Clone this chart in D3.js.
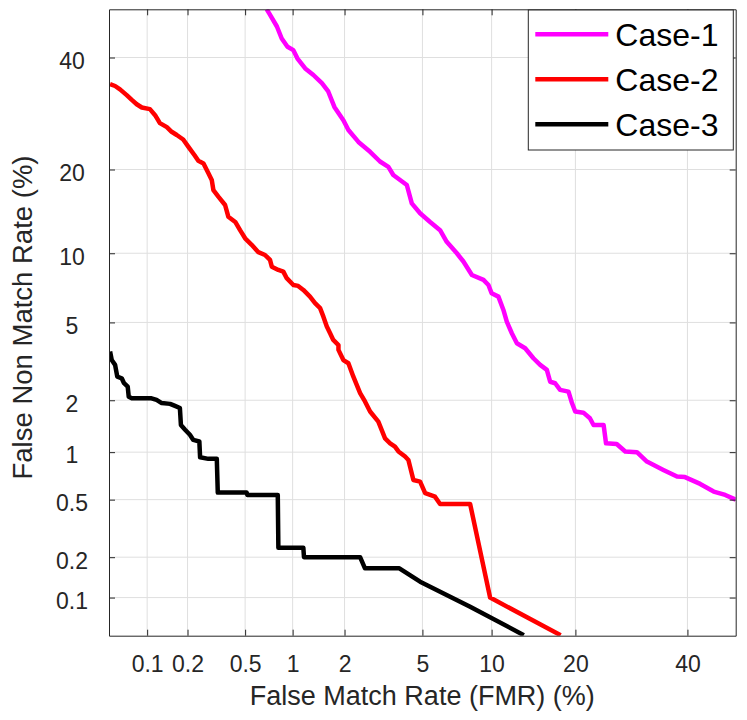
<!DOCTYPE html>
<html>
<head>
<meta charset="utf-8">
<script src="https://cdn.jsdelivr.net/npm/d3@7"></script>
<style>
  html, body { margin: 0; padding: 0; background: #fff; }
  svg text { font-family: "Liberation Sans", Arial, Helvetica, sans-serif; }
</style>
</head>
<body>
<div id="chart"></div>
<script>
// DET curves, values in percent
const tickValues = [0.1, 0.2, 0.5, 1, 2, 5, 10, 20, 40];
const tickLabels = ['0.1', '0.2', '0.5', '1', '2', '5', '10', '20', '40'];
const axisRange = [0.05, 50];

const seriesNames = ['Case-1', 'Case-2', 'Case-3'];
const seriesColors = ['#ff00ff', '#ff0000', '#000000'];

const case1Fmr = [0.69, 0.714, 0.80, 0.857, 0.93, 1.01, 1.07, 1.19, 1.33, 1.49, 1.62, 1.755, 1.97, 2.10, 2.38, 2.745, 3.09, 3.41, 3.61, 4.21, 4.45, 4.875, 5.43, 6.03, 6.46, 7.16, 7.64, 8.30, 9.27, 9.71, 10.0, 10.64, 11.13, 11.47, 11.99, 12.53, 13.45, 14.41, 15.23, 16.07, 16.5, 17.16, 17.83, 19.0, 19.5, 19.97, 21.2, 22.2, 22.77, 24.4, 24.8, 26.6, 28.1, 30.2, 32.05, 35.2, 37.9, 39.5, 42.6, 45.4, 47.8, 50];
const case1Fnmr = [50, 49.2, 46.4, 43.9, 42.2, 41.5, 39.8, 37.8, 36.5, 34.9, 33.3, 30.4, 28.0, 26.3, 24.3, 22.7, 21.2, 20.4, 19.2, 17.8, 15.4, 14.2, 13.2, 12.3, 11.1, 10.0, 9.26, 8.14, 7.76, 7.38, 6.79, 6.56, 5.71, 5.04, 4.44, 3.97, 3.75, 3.34, 3.09, 2.91, 2.52, 2.475, 2.28, 2.23, 1.93, 1.73, 1.705, 1.585, 1.45, 1.45, 1.13, 1.12, 1.01, 1.0, 0.875, 0.777, 0.705, 0.70, 0.633, 0.565, 0.537, 0.50];

const case2Fmr = [0.051, 0.056, 0.0613, 0.0693, 0.076, 0.083, 0.091, 0.105, 0.115, 0.125, 0.141, 0.153, 0.167, 0.186, 0.203, 0.224, 0.239, 0.26, 0.281, 0.297, 0.305, 0.33, 0.367, 0.386, 0.43, 0.463, 0.50, 0.552, 0.61, 0.673, 0.724, 0.743, 0.817, 0.877, 0.92, 1.01, 1.08, 1.16, 1.27, 1.36, 1.455, 1.52, 1.59, 1.66, 1.73, 1.85, 1.85, 1.97, 2.10, 2.235, 2.43, 2.58, 2.745, 3.03, 3.28, 3.48, 3.68, 3.83, 4.13, 4.285, 4.53, 4.875, 5.15, 5.43, 5.72, 6.03, 8.16, 9.86, 17.9];
const case2Fnmr = [34.7, 34.35, 33.7, 32.6, 31.7, 30.9, 30.3, 30.0, 28.9, 27.5, 26.8, 26.0, 25.45, 24.7, 23.5, 22.2, 21.3, 20.9, 19.5, 18.5, 17.1, 16.25, 15.2, 13.8, 13.2, 12.3, 11.45, 10.8, 10.1, 9.84, 9.40, 8.82, 8.55, 8.41, 7.89, 7.38, 7.31, 7.02, 6.56, 6.13, 5.82, 5.32, 4.78, 4.44, 4.12, 3.89, 3.68, 3.27, 3.15, 2.68, 2.19, 1.97, 1.73, 1.515, 1.21, 1.13, 1.08, 1.01, 0.94, 0.896, 0.671, 0.655, 0.551, 0.537, 0.523, 0.468, 0.468, 0.10, 0.0505];

const case3Fmr = [0.051, 0.0526, 0.056, 0.0583, 0.0633, 0.066, 0.0706, 0.0719, 0.076, 0.108, 0.118, 0.129, 0.149, 0.162, 0.176, 0.179, 0.192, 0.208, 0.22, 0.243, 0.246, 0.281, 0.322, 0.327, 0.512, 0.517, 0.81, 0.817, 1.16, 1.17, 2.43, 2.58, 3.87, 4.875, 8.16, 13.3];
const case3Fnmr = [3.61, 3.27, 3.09, 2.68, 2.63, 2.475, 2.37, 2.09, 2.05, 2.05, 2.01, 1.93, 1.91, 1.86, 1.81, 1.45, 1.36, 1.27, 1.185, 1.16, 0.93, 0.91, 0.91, 0.556, 0.556, 0.537, 0.537, 0.234, 0.234, 0.20, 0.20, 0.166, 0.166, 0.132, 0.085, 0.0505];

// inverse normal cdf (Acklam), used for the normal deviate axes
function probit(p) {
    const a = [-3.969683028665376e+01, 2.209460984245205e+02, -2.759285104469687e+02, 1.383577518672690e+02, -3.066479806614716e+01, 2.506628277459239e+00];
    const b = [-5.447609879822406e+01, 1.615858368580409e+02, -1.556989798598866e+02, 6.680131188771972e+01, -1.328068155288572e+01];
    const c = [-7.784894002430293e-03, -3.223964580411365e-01, -2.400758277161838e+00, -2.549732539343734e+00, 4.374664141464968e+00, 2.938163982698783e+00];
    const d = [7.784695709041462e-03, 3.224671290700398e-01, 2.445134137142996e+00, 3.754408661907416e+00];
    const pl = 0.02425;
    let q, r;
    if (p < pl) {
        q = Math.sqrt(-2 * Math.log(p));
        return (((((c[0]*q+c[1])*q+c[2])*q+c[3])*q+c[4])*q+c[5]) / ((((d[0]*q+d[1])*q+d[2])*q+d[3])*q+1);
    }
    if (p <= 1 - pl) {
        q = p - 0.5; r = q * q;
        return (((((a[0]*r+a[1])*r+a[2])*r+a[3])*r+a[4])*r+a[5])*q / (((((b[0]*r+b[1])*r+b[2])*r+b[3])*r+b[4])*r+1);
    }
    q = Math.sqrt(-2 * Math.log(1 - p));
    return -(((((c[0]*q+c[1])*q+c[2])*q+c[3])*q+c[4])*q+c[5]) / ((((d[0]*q+d[1])*q+d[2])*q+d[3])*q+1);
}
const pz = v => probit(v / 100);

const W = 747, H = 720;
const margin = {left: 109, top: 9.3, right: 11.3, bottom: 84.3};
const width = W - margin.left - margin.right;
const height = H - margin.top - margin.bottom;
const axisColor = '#262626';

const svg = d3.select('#chart').append('svg')
    .attr('width', W)
    .attr('height', H);

const g = svg.append('g')
    .attr('transform', `translate(${margin.left},${margin.top})`);

const x = d3.scaleLinear().domain(axisRange.map(pz)).range([0, width]);
const y = d3.scaleLinear().domain(axisRange.map(pz)).range([height, 0]);

// grid
g.append('g').selectAll('line.vg')
    .data(tickValues).enter().append('line')
    .attr('x1', d => x(pz(d))).attr('x2', d => x(pz(d)))
    .attr('y1', 0).attr('y2', height)
    .attr('stroke', '#dfdfdf').attr('stroke-width', 1);
g.append('g').selectAll('line.hg')
    .data(tickValues).enter().append('line')
    .attr('y1', d => y(pz(d))).attr('y2', d => y(pz(d)))
    .attr('x1', 0).attr('x2', width)
    .attr('stroke', '#dfdfdf').attr('stroke-width', 1);

// curves
g.append('clipPath').attr('id', 'clip')
    .append('rect').attr('width', width).attr('height', height);

const series = [
    {fmr: case1Fmr, fnmr: case1Fnmr},
    {fmr: case2Fmr, fnmr: case2Fnmr},
    {fmr: case3Fmr, fnmr: case3Fnmr}
];

const line = d3.line()
    .x(d => x(pz(d[0])))
    .y(d => y(pz(d[1])));

const curves = g.append('g').attr('clip-path', 'url(#clip)');
series.forEach((s, i) => {
    curves.append('path')
        .datum(s.fmr.map((v, j) => [v, s.fnmr[j]]))
        .attr('d', line)
        .attr('fill', 'none')
        .attr('stroke', seriesColors[i])
        .attr('stroke-width', 4.5)
        .attr('stroke-linejoin', 'round');
});

// axes (ticks pointing inwards, box on)
const tv = tickValues.map(pz);
const fmt = (d, i) => tickLabels[i];

const xAxis = g.append('g')
    .attr('transform', `translate(0,${height})`)
    .call(d3.axisBottom(x).tickValues(tv).tickFormat(fmt).tickSize(-6).tickSizeOuter(0).tickPadding(20));
const yAxis = g.append('g')
    .call(d3.axisLeft(y).tickValues(tv).tickFormat(fmt).tickSize(-6).tickSizeOuter(0).tickPadding(37));
g.append('g')
    .call(d3.axisTop(x).tickValues(tv).tickFormat('').tickSize(-6).tickSizeOuter(0));
g.append('g')
    .attr('transform', `translate(${width},0)`)
    .call(d3.axisRight(y).tickValues(tv).tickFormat('').tickSize(-6).tickSizeOuter(0));

g.selectAll('.domain').attr('stroke', axisColor);
g.selectAll('.tick line').attr('stroke', axisColor);
g.selectAll('.tick text')
    .attr('fill', axisColor)
    .style('font-size', '23px');
yAxis.selectAll('.tick text')
    .attr('text-anchor', 'middle')
    .attr('dy', '0.47em');

// axis labels
svg.append('text')
    .attr('x', margin.left + width / 2)
    .attr('y', 705)
    .attr('text-anchor', 'middle')
    .attr('fill', axisColor)
    .style('font-size', '27px')
    .text('False Match Rate (FMR) (%)');

svg.append('text')
    .attr('transform', 'translate(31.5,317.5) rotate(-90)')
    .attr('text-anchor', 'middle')
    .attr('fill', axisColor)
    .style('font-size', '27.5px')
    .text('False Non Match Rate (%)');

// legend
const legend = svg.append('g').attr('transform', 'translate(528.3,10)');
legend.append('rect')
    .attr('width', 205).attr('height', 140)
    .attr('fill', '#fff').attr('stroke', axisColor).attr('stroke-width', 1);
seriesNames.forEach((name, i) => {
    const ly = 24.3 + i * 45;
    legend.append('line')
        .attr('x1', 7).attr('x2', 80)
        .attr('y1', ly).attr('y2', ly)
        .attr('stroke', seriesColors[i]).attr('stroke-width', 4.5);
    legend.append('text')
        .attr('x', 87).attr('y', ly + 11.5)
        .attr('fill', '#000')
        .style('font-size', '32px')
        .text(name);
});
</script>
</body>
</html>
